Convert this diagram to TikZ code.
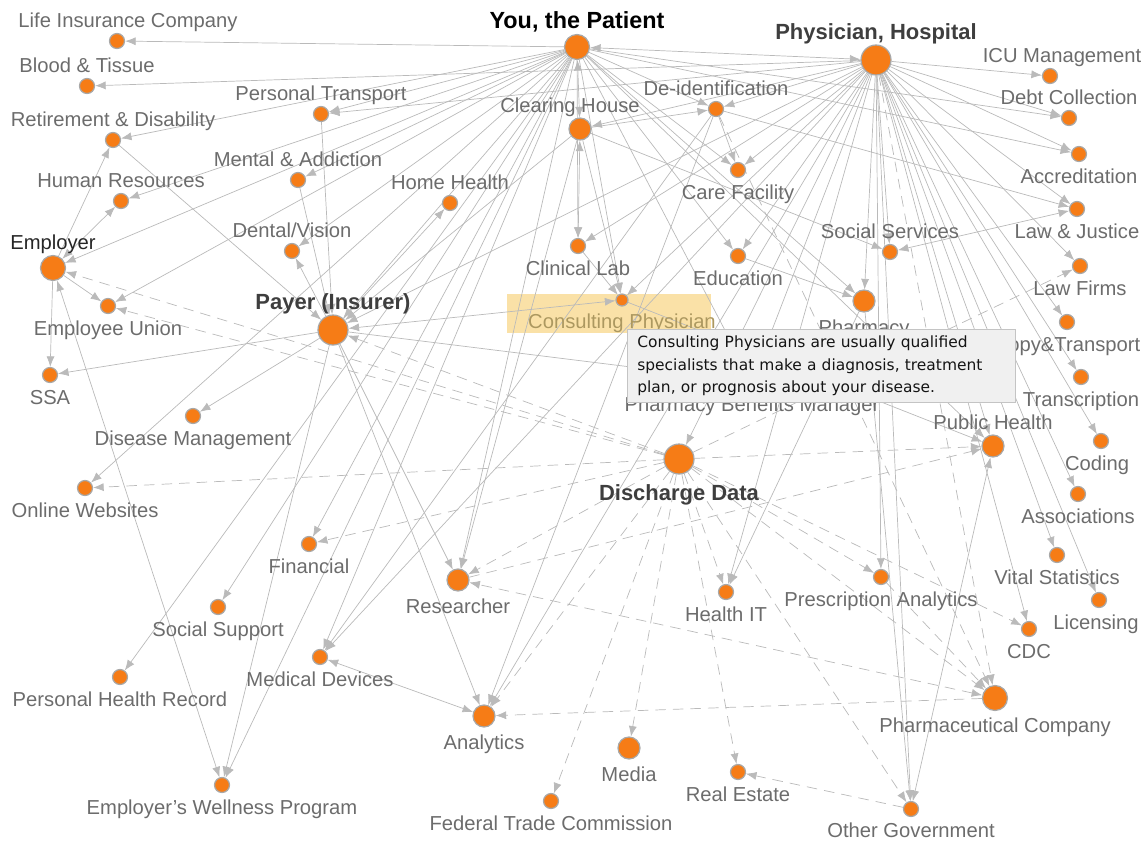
\documentclass[tikz,border=0pt]{standalone}
\usepackage{fontspec}
\setmainfont{Liberation Sans}
\newfontfamily\tipfont{DejaVu Sans}
\usetikzlibrary{arrows.meta,backgrounds}

\definecolor{nodeorange}{RGB}{246,124,22}
\definecolor{ringgray}{RGB}{168,168,168}
\definecolor{edgegray}{RGB}{186,186,186}
\definecolor{labelgray}{RGB}{108,108,108}
\definecolor{headgray}{RGB}{62,62,62}
\definecolor{hlyellow}{RGB}{246,196,80}
\definecolor{tipbg}{RGB}{240,240,240}
\definecolor{tipborder}{RGB}{196,196,196}
\definecolor{tiptext}{RGB}{20,20,20}

\tikzset{
  dot/.style={circle,fill=nodeorange,draw=ringgray,line width=0.7pt,inner sep=0pt,minimum size=0.3cm},
  middot/.style={dot,minimum size=0.44cm},
  bigdot/.style={dot,minimum size=0.6cm},
  lbl/.style={text=labelgray,font=\fontsize{11.5}{13}\selectfont,inner sep=1pt,text height=8.4pt,text depth=2.4pt,yshift=-1.8pt},
  hub/.style={lbl,text=headgray,font=\bfseries\fontsize{12.5}{14}\selectfont,text height=9pt},
  every label/.style={lbl},
  link/.style={line width=0.7pt,->,every edge/.style={draw=edgegray}},
  dashlink/.style={dash pattern=on 6pt off 4pt},
  tooltip/.style={anchor=north west,draw=tipborder,fill=tipbg,align=left,text=tiptext,
    font=\tipfont\fontsize{8.8}{12.8}\selectfont,inner xsep=0.2cm,text width=7.36cm,minimum height=1.46cm}
}

\begin{document}
\begin{tikzpicture}[x=0.02cm,y=-0.02cm,>={Latex[length=6pt,width=4.6pt]},label distance=1pt]

      \useasboundingbox (0,0) rectangle (1142,840);

      % the two big senders
      \node[dot,minimum size=0.5cm,label={[hub,text=black,font=\bfseries\fontsize{13.3}{15}\selectfont,yshift=2pt]above:{You, the Patient}}] (patient) at (577,47) {};
      \node[bigdot,label={[hub,yshift=2pt]above:{Physician, Hospital}}] (phys) at (876,60) {};

      % left column
      \node[dot,label={[xshift=0.22cm]above:Life Insurance Company}] (lifeins) at (117,41) {};
      \node[dot,label={above:Blood \& Tissue}] (blood) at (87,86) {};
      \node[dot,label={above:Retirement \& Disability}] (retire) at (113,140) {};
      \node[dot,label={above:Human Resources}] (humanres) at (121,201) {};
      \node[dot,minimum size=0.5cm,label={[text=black!85]above:Employer}] (employer) at (53,268) {};
      \node[dot,label={below:Employee Union}] (empunion) at (108,306) {};
      \node[dot,label={below:SSA}] (ssa) at (50,375) {};
      \node[dot,label={below:Disease Management}] (disease) at (193,416) {};
      \node[dot,label={below:Online Websites}] (online) at (85,488) {};
      \node[dot,label={below:Financial}] (financial) at (309,544) {};
      \node[dot,label={below:Social Support}] (socialsup) at (218,607) {};
      \node[dot,label={below:Medical Devices}] (medical) at (320,657) {};
      \node[dot,label={below:Personal Health Record}] (phr) at (120,677) {};
      \node[dot,label={below:Employer's Wellness Program}] (wellness) at (222,785) {};

      % middle
      \node[dot,label={above:Personal Transport}] (persontransport) at (321,114) {};
      \node[dot,label={above:Mental \& Addiction}] (mental) at (298,180) {};
      \node[dot,label={above:Dental/Vision}] (dental) at (292,251) {};
      \node[bigdot,label={[hub,yshift=2pt]above:Payer (Insurer)}] (payer) at (333,330) {};
      \node[dot,label={above:Home Health}] (homehealth) at (450,203) {};
      \node[middot,label={[xshift=-0.2cm]above:Clearing House}] (clearing) at (580,129) {};
      \node[dot,label={above:De-identification}] (deident) at (716,109) {};
      \node[dot,label={below:Care Facility}] (carefac) at (738,170) {};
      \node[dot,label={below:Clinical Lab}] (clinlab) at (578,246) {};
      \node[dot,label={below:Education}] (education) at (738,256) {};
      \node[dot,minimum size=0.24cm,label={[text={rgb,255:red,172;green,152;blue,96}]below:Consulting Physician}] (consult) at (622,300) {};
      \node[dot,label={below:Pharmacy Benefits Manager}] (pbm) at (752,382) {};
      \node[bigdot,label={[hub]below:Discharge Data}] (discharge) at (679,459) {};
      \node[middot,label={below:Researcher}] (researcher) at (458,580) {};
      \node[dot,label={below:Health IT}] (healthit) at (726,592) {};
      \node[middot,label={below:Analytics}] (analytics) at (484,716) {};
      \node[middot,label={below:Media}] (media) at (629,748) {};
      \node[dot,label={below:Real Estate}] (realestate) at (738,772) {};
      \node[dot,label={below:Federal Trade Commission}] (ftc) at (551,801) {};

      % right column
      \node[dot,label={above:Social Services}] (socialserv) at (890,252) {};
      \node[middot,label={below:Pharmacy}] (pharmacy) at (864,301) {};
      \node[dot,label={[xshift=0.24cm]above:ICU Management}] (icu) at (1050,76) {};
      \node[dot,label={above:Debt Collection}] (debt) at (1069,118) {};
      \node[dot,label={below:Accreditation}] (accred) at (1079,154) {};
      \node[dot,label={below:Law \& Justice}] (lawjust) at (1077,209) {};
      \node[dot,label={below:Law Firms}] (lawfirms) at (1080,266) {};
      \node[dot,label={below:Copy\&Transport}] (copy) at (1067,322) {};
      \node[dot,label={below:Transcription}] (transcr) at (1081,377) {};
      \node[middot,label={above:Public Health}] (pubhealth) at (993,446) {};
      \node[dot,label={[xshift=-0.08cm]below:Coding}] (coding) at (1101,441) {};
      \node[dot,label={below:Associations}] (assoc) at (1078,494) {};
      \node[dot,label={below:Vital Statistics}] (vital) at (1057,555) {};
      \node[dot,label={below:Prescription Analytics}] (prescr) at (881,577) {};
      \node[dot,label={[xshift=-0.06cm]below:Licensing}] (licensing) at (1099,600) {};
      \node[dot,label={below:CDC}] (cdc) at (1029,629) {};
      \node[middot,minimum size=0.5cm,label={below:Pharmaceutical Company}] (pharmco) at (995,698) {};
      \node[dot,label={[yshift=1pt]below:Other Government}] (othergov) at (911,809) {};

      % highlight behind the hovered node
      \begin{scope}[on background layer]
        \node[fill=hlyellow,fill opacity=0.5,inner sep=0pt,minimum width=4.08cm,minimum height=0.78cm] (hl) at (609,313.5) {};
      \end{scope}

      % connectors
      \begin{scope}[on background layer,link]
        % from the patient
        \path (patient) edge (lifeins) edge (retire) edge (humanres) edge (mental) edge (employer)
          edge (empunion) edge (dental) edge (persontransport) edge (payer) edge (deident) edge (carefac)
          edge (clinlab) edge (consult) edge (education) edge (pharmacy) edge (online) edge (financial)
          edge (socialsup) edge (phr) edge (medical) edge (wellness) edge (researcher) edge (pbm)
          edge (pubhealth) edge (debt) edge (accred);
        \path (patient) edge[<->] (clearing) edge[<->] (phys);

        % from the physician, hospital
        \path (phys) edge (blood) edge (persontransport) edge (clearing) edge (deident) edge (carefac)
          edge (clinlab) edge (consult) edge (payer) edge (education) edge (socialserv) edge (pharmacy)
          edge (icu) edge (debt) edge (accred) edge (lawjust) edge (lawfirms) edge (copy) edge (transcr)
          edge (coding) edge (assoc) edge (vital) edge (licensing) edge (cdc) edge (pubhealth)
          edge (prescr) edge (healthit) edge (discharge) edge (othergov) edge (medical) edge (analytics)
          edge (pbm);
        \path[dashlink] (phys) edge (pharmco);

        % employer and payer
        \path (employer) edge[<->] (humanres) edge (retire) edge (empunion) edge (ssa) edge[<->] (wellness);
        \path (payer) edge (ssa) edge (disease) edge (homehealth) edge (dental) edge (analytics)
          edge (wellness) edge (researcher) edge[<->] (consult) edge (pbm);
        \path (retire) edge (payer);
        \path (persontransport) edge (payer);
        \path (mental) edge (payer);
        \path (clearing) edge (payer);

        % the rest
        \path (clearing) edge[<->] (clinlab) edge (deident) edge (socialserv) edge (consult) edge (researcher);
        \path (clinlab) edge (consult);
        \path (deident) edge (medical) edge (analytics) edge (carefac) edge (lawjust);
        \path[dashlink] (deident) edge (pharmco);
        \path (education) edge (pharmacy);
        \path (pharmacy) edge (healthit) edge (othergov);
        \path (consult) edge (pubhealth);
        \path (medical) edge[<->] (analytics);
        \path (lawjust) edge[<->] (socialserv);
        \path (pubhealth) edge[<->] (othergov);

        % discharge data
        \path[dashlink] (discharge) edge (employer) edge (empunion) edge (payer) edge (online)
          edge (financial) edge (researcher) edge (analytics) edge (ftc) edge (media) edge (healthit)
          edge (realestate) edge (prescr) edge (cdc) edge (pharmco) edge (othergov) edge (pubhealth)
          edge (lawfirms);
        \path[dashlink] (pharmco) edge[<->] (researcher) edge (analytics);
        \path[dashlink] (prescr) edge (pharmco);
        \path[dashlink] (researcher) edge (pubhealth);
        \path[dashlink] (othergov) edge (realestate);
      \end{scope}

      % hover text
      \node[tooltip] (tip) at (627,329) {Consulting Physicians are usually qualified\\specialists that make a diagnosis, treatment\\plan, or prognosis about your disease.};

\end{tikzpicture}
\end{document}
